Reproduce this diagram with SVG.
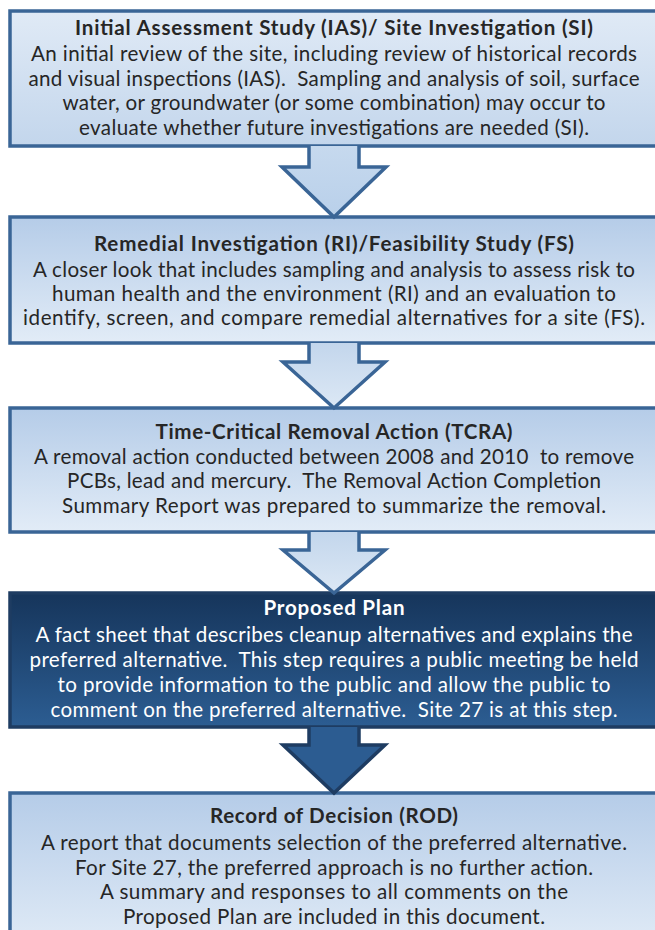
<svg xmlns="http://www.w3.org/2000/svg" width="655" height="930" viewBox="0 0 655 930">
<defs>
<linearGradient id="gDown" x1="0" y1="0" x2="0" y2="1">
<stop offset="0" stop-color="#e0eaf6"/><stop offset="1" stop-color="#c3d6ec"/>
</linearGradient>
<linearGradient id="gUp" x1="0" y1="0" x2="0" y2="1">
<stop offset="0" stop-color="#b5cce8"/><stop offset="1" stop-color="#e2ecf7"/>
</linearGradient>
<linearGradient id="gDark" x1="0" y1="0" x2="0" y2="1">
<stop offset="0" stop-color="#16355b"/><stop offset="1" stop-color="#2c5d92"/>
</linearGradient>
<linearGradient id="gArrow" x1="0" y1="0" x2="0" y2="1">
<stop offset="0" stop-color="#c3d6ec"/><stop offset="1" stop-color="#dce8f5"/>
</linearGradient>
<linearGradient id="gArrow1" x1="0" y1="0" x2="0" y2="1">
<stop offset="0" stop-color="#c6d9ee"/><stop offset="1" stop-color="#b9d0ea"/>
</linearGradient>
</defs>
<style>
.box{stroke:#3a6596;stroke-width:3.5}
.dark{stroke:#1e3c62;stroke-width:3.5}
text{font-family:Lato,"Open Sans","Liberation Sans",sans-serif;font-size:20.6px;fill:#262626;text-anchor:middle;white-space:pre}
.t{font-weight:bold}
.w{fill:#ffffff}
.ol{fill:none;stroke:#3a6596;stroke-width:3.5;stroke-linejoin:miter}
.old{fill:none;stroke:#1e3c62;stroke-width:3.5;stroke-linejoin:miter}
</style>

<g id="ias">
<rect class="box" x="10" y="11" width="648" height="135" fill="url(#gDown)"/>
<text class="t" x="334" y="35" textLength="518">Initial Assessment Study (IAS)/ Site Investigation (SI)</text>
<text x="334" y="61" textLength="606">An initial review of the site, including review of historical records</text>
<text x="334" y="86" textLength="611">and visual inspections (IAS).  Sampling and analysis of soil, surface</text>
<text x="334" y="110" textLength="543">water, or groundwater (or some combination) may occur to</text>
<text x="334" y="135" textLength="510">evaluate whether future investigations are needed (SI).</text>
</g>

<g id="rifs">
<rect class="box" x="10" y="217" width="648" height="126" fill="url(#gUp)"/>
<text class="t" x="334" y="251" textLength="480">Remedial Investigation (RI)/Feasibility Study (FS)</text>
<text x="334" y="277" textLength="602">A closer look that includes sampling and analysis to assess risk to</text>
<text x="334" y="301" textLength="564">human health and the environment (RI) and an evaluation to</text>
<text x="334" y="325" textLength="622">identify, screen, and compare remedial alternatives for a site (FS).</text>
</g>

<g id="tcra">
<rect class="box" x="10" y="408" width="648" height="124" fill="url(#gUp)"/>
<text class="t" x="334" y="439" textLength="357">Time-Critical Removal Action (TCRA)</text>
<text x="334" y="464" textLength="600">A removal action conducted between 2008 and 2010  to remove</text>
<text x="334" y="488" textLength="534">PCBs, lead and mercury.  The Removal Action Completion</text>
<text x="334" y="513" textLength="544">Summary Report was prepared to summarize the removal.</text>
</g>

<g id="proposed-plan">
<rect class="dark" x="10" y="593" width="648" height="134" fill="url(#gDark)"/>
<text class="t w" x="334" y="615" textLength="141">Proposed Plan</text>
<text class="w" x="334" y="642" textLength="597">A fact sheet that describes cleanup alternatives and explains the</text>
<text class="w" x="334" y="667" textLength="609">preferred alternative.  This step requires a public meeting be held</text>
<text class="w" x="334" y="692" textLength="553">to provide information to the public and allow the public to</text>
<text class="w" x="334" y="717" textLength="567">comment on the preferred alternative.  Site 27 is at this step.</text>
</g>

<g id="rod">
<rect class="box" x="10" y="793" width="648" height="160" fill="url(#gUp)"/>
<text class="t" x="334" y="823" textLength="248">Record of Decision (ROD)</text>
<text x="334" y="850" textLength="586">A report that documents selection of the preferred alternative.</text>
<text x="334" y="875" textLength="518">For Site 27, the preferred approach is no further action.</text>
<text x="334" y="899" textLength="468">A summary and responses to all comments on the</text>
<text x="334" y="924" textLength="422">Proposed Plan are included in this document.</text>
</g>

<g id="connectors">
<g id="arrow1">
<polygon points="309,146 359,146 359,167 386,167 334,217 282,167 309,167" fill="url(#gArrow1)"/>
<polyline class="ol" points="309,146 309,167 282,167 334,217 386,167 359,167 359,146"/>
</g>
<g id="arrow2">
<polygon points="309,343 359,343 359,362 385,362 334,408 283,362 309,362" fill="url(#gArrow)"/>
<polyline class="ol" points="309,343 309,362 283,362 334,408 385,362 359,362 359,343"/>
</g>
<g id="arrow3">
<polygon points="309,532 359,532 359,550 385,550 334,593 283,550 309,550" fill="url(#gArrow)"/>
<polyline class="ol" points="309,532 309,550 283,550 334,593 385,550 359,550 359,532"/>
</g>
<g id="arrow4">
<polygon points="309,727 359,727 359,745 385,745 334,793 283,745 309,745" fill="#2c5c91"/>
<polyline class="old" points="309,727 309,745 283,745 334,793 385,745 359,745 359,727"/>
</g>
</g>
</svg>
